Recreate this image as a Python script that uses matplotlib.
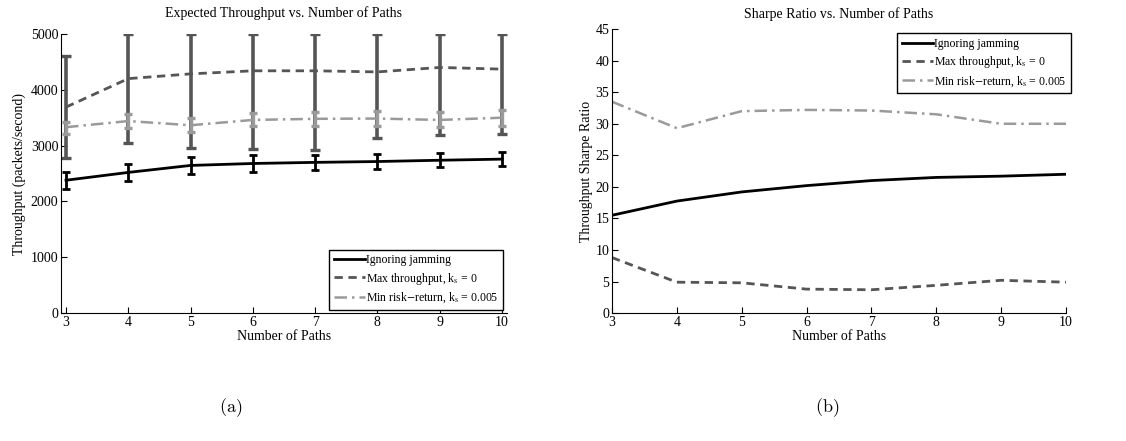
#!/usr/bin/env python
"""throughput and sharpe ratio vs. number of paths"""

import matplotlib.pyplot as plt
import numpy as np

paths = [3, 4, 5, 6, 7, 8, 9, 10]

# (a) expected throughput, packets/second, with error bar bounds
ignore_tp = [2380, 2520, 2645, 2680, 2700, 2715, 2738, 2758]
ignore_lo = [2225, 2370, 2500, 2535, 2560, 2585, 2610, 2630]
ignore_hi = [2535, 2670, 2790, 2825, 2840, 2850, 2868, 2890]
maxtp_tp = [3690, 4200, 4285, 4340, 4340, 4320, 4400, 4370]
maxtp_lo = [2770, 3040, 2950, 2940, 2930, 3140, 3195, 3210]
maxtp_hi = [4600, 5000, 5000, 5000, 5000, 5000, 5000, 5000]
minrisk_tp = [3330, 3440, 3365, 3460, 3480, 3485, 3460, 3500]
minrisk_lo = [3215, 3310, 3240, 3345, 3345, 3355, 3325, 3360]
minrisk_hi = [3430, 3565, 3495, 3585, 3610, 3615, 3595, 3635]

# (b) throughput sharpe ratio
ignore_sr = [15.5, 17.75, 19.2, 20.2, 21.0, 21.5, 21.7, 22.0]
maxtp_sr = [8.8, 4.9, 4.8, 3.8, 3.7, 4.4, 5.2, 4.9]
minrisk_sr = [33.5, 29.3, 32.0, 32.2, 32.1, 31.5, 30.0, 30.0]

labels = ['Ignoring jamming',
          r'Max throughput, k$_{\rm s}$ = 0',
          r'Min risk$-$return, k$_{\rm s}$ = 0.005']

BLACK = '#000000'
DARK = '#555555'
LIGHT = '#9a9a9a'


def yerr(mid, lo, hi):
    mid = np.array(mid)
    return [mid - np.array(lo), np.array(hi) - mid]


def style_axes(ax):
    ax.spines['top'].set_visible(False)
    ax.spines['right'].set_visible(False)
    ax.tick_params(direction='in', length=4, width=0.8, labelsize=10, pad=2)
    ax.set_xticks(paths)


def main():
    plt.rcParams['font.family'] = ['Liberation Serif', 'DejaVu Serif']
    plt.rcParams['mathtext.fontset'] = 'stix'

    fig = plt.figure(figsize=(11.26, 4.41), dpi=100)
    ax1 = fig.add_axes([0.0542, 0.290, 0.396, 0.633])
    ax2 = fig.add_axes([0.5435, 0.290, 0.4032, 0.644])

    # (a)
    ax1.errorbar(paths, maxtp_tp, yerr=yerr(maxtp_tp, maxtp_lo, maxtp_hi),
                 color=DARK, ls=(0, (3, 2)), lw=2, elinewidth=2.6, capsize=3.5,
                 capthick=2.4, label=labels[1], zorder=2)
    ax1.errorbar(paths, minrisk_tp, yerr=yerr(minrisk_tp, minrisk_lo, minrisk_hi),
                 color=LIGHT, ls=(0, (5, 2, 1, 2)), lw=1.8, elinewidth=2.4,
                 capsize=3, capthick=2.4, label=labels[2], zorder=3)
    ax1.errorbar(paths, ignore_tp, yerr=yerr(ignore_tp, ignore_lo, ignore_hi),
                 color=BLACK, ls='-', lw=2, elinewidth=2, capsize=2.8,
                 capthick=2, label=labels[0], zorder=4)
    style_axes(ax1)
    ax1.set_xlim(2.92, 10.08)
    ax1.set_ylim(0, 5000)
    ax1.set_yticks([0, 1000, 2000, 3000, 4000, 5000])
    ax1.set_title('Expected Throughput vs. Number of Paths', fontsize=10, pad=12)
    ax1.set_xlabel('Number of Paths', fontsize=10, labelpad=0.5)
    ax1.set_ylabel('Throughput (packets/second)', fontsize=10, labelpad=3)
    h, l = ax1.get_legend_handles_labels()
    order = [l.index(s) for s in labels]
    leg1 = ax1.legend([h[i][0] for i in order], [l[i] for i in order],
                      loc='lower right', bbox_to_anchor=(503 / 1126, 1 - 310 / 441),
                      bbox_transform=fig.transFigure, fontsize=8.5, fancybox=False,
                      edgecolor='black', framealpha=1, handlelength=2.6,
                      handletextpad=0.1, borderpad=0.4, labelspacing=0.35,
                      borderaxespad=0)
    leg1.get_frame().set_linewidth(1.0)

    # (b)
    ax2.plot(paths, maxtp_sr, color=DARK, ls=(0, (3, 2)), lw=2, label=labels[1])
    ax2.plot(paths, minrisk_sr, color=LIGHT, ls=(0, (5, 2, 1, 2)), lw=1.8,
             label=labels[2])
    ax2.plot(paths, ignore_sr, color=BLACK, ls='-', lw=2, label=labels[0])
    style_axes(ax2)
    ax2.set_xlim(3, 10)
    ax2.set_ylim(0, 45)
    ax2.set_yticks(range(0, 50, 5))
    ax2.set_title('Sharpe Ratio vs. Number of Paths', fontsize=10, pad=8)
    ax2.set_xlabel('Number of Paths', fontsize=10, labelpad=0.5)
    ax2.set_ylabel('Throughput Sharpe Ratio', fontsize=10, labelpad=2)
    h, l = ax2.get_legend_handles_labels()
    order = [l.index(s) for s in labels]
    leg2 = ax2.legend([h[i] for i in order], [l[i] for i in order],
                      loc='upper right', bbox_to_anchor=(1071 / 1126, 1 - 33 / 441),
                      bbox_transform=fig.transFigure, fontsize=8.5, fancybox=False,
                      edgecolor='black', framealpha=1, handlelength=2.6,
                      handletextpad=0.1, borderpad=0.4, labelspacing=0.35,
                      borderaxespad=0)
    leg2.get_frame().set_linewidth(1.0)

    # sub-figure captions
    fig.text(231 / 1126, 1 - 408 / 441, r'$\mathrm{(a)}$', math_fontfamily='cm',
             fontsize=13, ha='center', va='center')
    fig.text(827 / 1126, 1 - 408 / 441, r'$\mathrm{(b)}$', math_fontfamily='cm',
             fontsize=13, ha='center', va='center')

    fig.savefig('out.png', dpi=100)


if __name__ == "__main__":
    main()
